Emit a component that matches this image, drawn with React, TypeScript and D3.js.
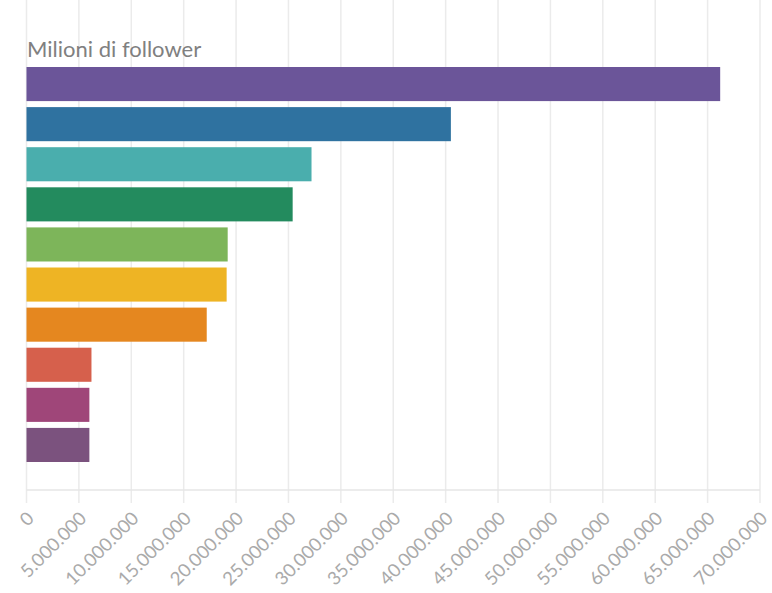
import { useMemo } from "react";
import * as d3 from "d3";

const WIDTH = 772;
const HEIGHT = 593;

// categories are not labelled in the chart, only their order is shown
const categories = ["A1", "A2", "A3", "A4", "A5", "A6", "A7", "A8", "A9", "A10"];
const followers = [66.2e6, 40.5e6, 27.2e6, 25.4e6, 19.2e6, 19.1e6, 17.2e6, 6.2e6, 6.0e6, 6.0e6];
const barColors = [
  "#6b5599",
  "#2f72a0",
  "#4aaead",
  "#238b5e",
  "#7db55a",
  "#eeb424",
  "#e5871f",
  "#d6604c",
  "#9f4679",
  "#7b527e",
];
const xTicks = d3.range(0, 70e6 + 1, 5e6);

const fmt = (v: number) => d3.format(",")(v).replace(/,/g, ".");

const App = () => {
  const x = useMemo(() => d3.scaleLinear().domain([0, 70e6]).range([26.5, 760]), []);
  const y = useMemo(
    () =>
      d3
        .scaleBand<string>()
        .domain(categories)
        .range([64, 465])
        .paddingInner(0.15)
        .paddingOuter(0.075),
    []
  );
  const axisY = 490;

  return (
    <svg
      width={WIDTH}
      height={HEIGHT}
      style={{ position: "absolute", left: 0, top: 0, fontFamily: "Lato, sans-serif" }}
    >
      <rect width={WIDTH} height={HEIGHT} fill="#fff" />
      {/* grid */}
      {xTicks.map((t) => (
        <line key={t} x1={x(t)} x2={x(t)} y1={0} y2={axisY + 13} stroke="#ebebeb" strokeWidth={1.5} />
      ))}
      <line x1={x(0)} x2={x(70e6)} y1={axisY} y2={axisY} stroke="#e6e6e6" strokeWidth={1.5} />

      <text x={27} y={57} fontSize={22} fill="#808080">
        Milioni di follower
      </text>

      {categories.map((c, i) => (
        <rect
          key={c}
          x={x(0)}
          y={y(c)}
          width={x(followers[i]) - x(0)}
          height={y.bandwidth()}
          fill={barColors[i]}
        />
      ))}

      {xTicks.map((t) => (
        <text
          key={t}
          transform={`translate(${x(t) + 4}, ${axisY + 25}) rotate(-45)`}
          textAnchor="end"
          fontSize={18.5}
          fill="#aaaaaa"
          dy="0.35em"
        >
          {fmt(t)}
        </text>
      ))}
    </svg>
  );
};

export default App;
